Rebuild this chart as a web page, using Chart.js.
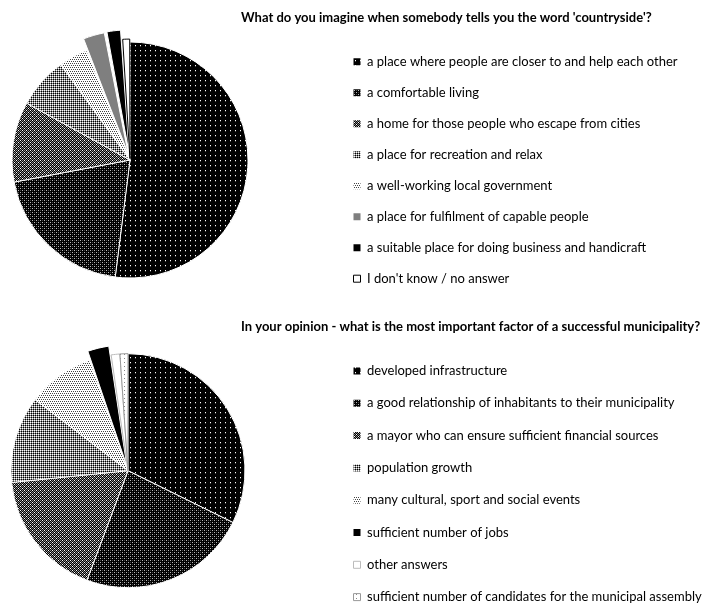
<!DOCTYPE html>
<html><head><meta charset="utf-8">
<script src="https://cdn.jsdelivr.net/npm/chart.js@4.4.0/dist/chart.umd.min.js"></script>
<style>
html,body{margin:0;padding:0;background:#fff;overflow:hidden;}
#wrap{position:relative;width:705px;height:604px;}
canvas{position:absolute;left:0;}
</style></head><body>
<div id="wrap">
<canvas id="c1" width="705" height="302" style="top:0"></canvas>
<canvas id="c2" width="705" height="302" style="top:302px"></canvas>
</div>
<script>
// ---- data ----
const title1 = "What do you imagine when somebody tells you the word 'countryside'?";
const labels1 = [
  "a place where people are closer to and help each other",
  "a comfortable living",
  "a home for those people who escape from cities",
  "a place for recreation and relax",
  "a well-working local government",
  "a place for fulfilment of capable people",
  "a suitable place for doing business and handicraft",
  "I don't know / no answer"
];
const values1 = [52, 20, 11, 7, 4, 3, 2, 1];

const title2 = "In your opinion - what is the most important factor of a successful municipality?";
const labels2 = [
  "developed infrastructure",
  "a good relationship of inhabitants to their municipality",
  "a mayor who can ensure sufficient financial sources",
  "population growth",
  "many cultural, sport and social events",
  "sufficient number of jobs",
  "other answers",
  "sufficient number of candidates for the municipal assembly"
];
const values2 = [32.3, 23.4, 17.7, 12, 9.3, 3, 1.2, 1.1];

// ---- textures ----
const tone = {'0':'#000','1':'#444','2':'#888','3':'#bbb','4':'#fff'};
const tiles = {
  p1: ["40000","10000","00000","00000","00000"],
  p2: ["3010","0000","1030","0000"],
  p3: ["4020","0202","2040","0202"],
  p4: ["4242","2020","4242","2020"],
  p5: ["4444","4141","4444","1414"],
  p8: ["2444","4444","4444","4444"]
};
function pattern(ctx, rows) {
  const n = rows.length, c = document.createElement('canvas');
  c.width = rows[0].length; c.height = n;
  const x = c.getContext('2d');
  rows.forEach((r, j) => [...r].forEach((ch, i) => { x.fillStyle = tone[ch]; x.fillRect(i, j, 1, 1); }));
  return ctx.createPattern(c, 'repeat');
}

// ---- placement plugin ----
const place = {
  id: 'place',
  afterLayout(chart, args, o) {
    const ds = chart.data.datasets[0];
    const off = Math.max(0, ...[].concat(ds.offset || 0), ds.hoverOffset || 0);
    const bw = Math.max(...[].concat(ds.borderWidth || 0));
    const half = (2 * o.r + off + bw) / 2;
    const a = chart.chartArea;
    a.left = o.cx - half; a.right = o.cx + half; a.top = o.cy - half; a.bottom = o.cy + half;
    a.width = 2 * half; a.height = 2 * half;
    const lg = chart.legend;
    if (lg) { lg.left = o.legendX; lg.right = chart.width; lg.top = o.legendY; lg.bottom = chart.height + 1000; }
    const t = chart.titleBlock;
    if (t) { const h = t.height; t.left = o.titleX; t.right = chart.width + 400; t.top = o.titleY; t.bottom = o.titleY + h; }
  }
};

const baseLabels = Chart.overrides.doughnut.plugins.legend.labels.generateLabels;

function makeChart(id, title, labels, values, colors, borders, offsets, pl, legendPad) {
  const ctx = document.getElementById(id).getContext('2d');
  return new Chart(ctx, {
    type: 'pie',
    data: {
      labels: labels,
      datasets: [{
        data: values,
        backgroundColor: colors(ctx),
        borderColor: borders,
        borderWidth: 1,
        offset: offsets,
        hoverOffset: 0
      }]
    },
    plugins: [place],
    options: {
      responsive: false,
      animation: false,
      events: [],
      layout: { padding: 0 },
      plugins: {
        place: pl,
        tooltip: { enabled: false },
        title: {
          display: true, text: title, align: 'start', color: '#000',
          padding: 0,
          font: { family: 'Lato', size: 13, weight: 'bold', lineHeight: 1.2 }
        },
        legend: {
          position: 'right', align: 'start',
          labels: {
            color: '#000', boxWidth: 7, boxHeight: 7, padding: legendPad,
            font: { family: 'Lato', size: 13 },
            generateLabels(chart) {
              const items = baseLabels(chart);
              items.forEach(it => { if (it.strokeStyle === '#ffffff') it.lineWidth = 0; });
              return items;
            }
          }
        }
      }
    }
  });
}

makeChart('c1', title1, labels1, values1,
  ctx => [pattern(ctx, tiles.p1), pattern(ctx, tiles.p2), pattern(ctx, tiles.p3), pattern(ctx, tiles.p4),
          pattern(ctx, tiles.p5), '#7f7f7f', '#000000', '#ffffff'],
  ['#ffffff','#ffffff','#ffffff','#ffffff','#ffffff','#ffffff','#ffffff','#000000'],
  [0, 0, 0, 0, 0, 26, 26, 6],
  { cx: 130, cy: 160, r: 118, legendX: 335.5, legendY: 37.2, titleX: 241, titleY: 10 },
  18);

makeChart('c2', title2, labels2, values2,
  ctx => [pattern(ctx, tiles.p1), pattern(ctx, tiles.p2), pattern(ctx, tiles.p3), pattern(ctx, tiles.p4),
          pattern(ctx, tiles.p5), '#000000', '#ffffff', pattern(ctx, tiles.p8)],
  ['#ffffff','#ffffff','#ffffff','#ffffff','#ffffff','#ffffff','#bbbbbb','#999999'],
  [0, 0, 0, 0, 0, 20, 0, 0],
  { cx: 128, cy: 168.7, r: 117, legendX: 334.2, legendY: 43.2, titleX: 241, titleY: 17 },
  19.3);
</script>
</body></html>
